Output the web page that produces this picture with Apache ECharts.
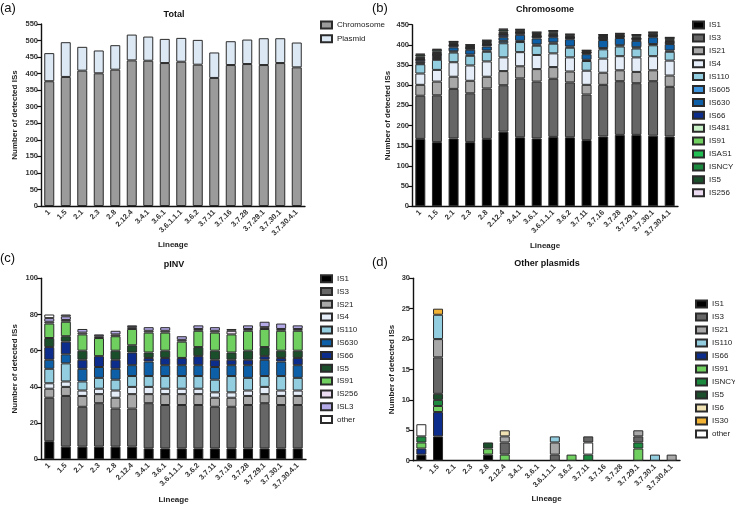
<!DOCTYPE html>
<html>
<head>
<meta charset="utf-8">
<script src="https://cdn.jsdelivr.net/npm/echarts@6/dist/echarts.min.js"></script>
<style>
html, body { margin: 0; padding: 0; background: #fff; }
#main { width: 735px; height: 506px; }
</style>
</head>
<body>
<div id="main"></div>
<script>
var lineage = ['1', '1.5', '2.1', '2.3', '2.8', '2.12.4', '3.4.1', '3.6.1', '3.6.1.1.1', '3.6.2',
  '3.7.11', '3.7.16', '3.7.28', '3.7.29.1', '3.7.30.1', '3.7.30.4.1'];

// (a) Total
var totChromosome = [377, 390, 409, 401, 412, 440, 439, 432, 436, 427, 387, 426, 429, 426, 432, 419];
var totPlasmid = [85, 105, 72, 69, 74, 78, 73, 73, 72, 75, 77, 72, 74, 81, 75, 75];

// (b) Chromosome
var chrNames = ['IS1', 'IS3', 'IS21', 'IS4', 'IS110', 'IS605', 'IS630', 'IS66', 'IS481', 'IS91', 'ISAS1', 'ISNCY', 'IS5', 'IS256'];
var chrIS1 = [167, 159, 168, 159, 167, 185, 171, 168, 172, 171, 164, 173, 177, 177, 175, 173];
var chrIS3 = [107, 116, 123, 121, 125, 115, 146, 141, 144, 136, 113, 128, 133, 128, 135, 123];
var chrIS21 = [27, 34, 30, 31, 29, 35, 30, 31, 29, 27, 24, 30, 27, 28, 27, 28];
var chrIS4 = [28, 29, 36, 38, 38, 34, 35, 35, 34, 35, 35, 35, 35, 36, 35, 37];
var chrIS110 = [23, 25, 24, 24, 24, 35, 25, 23, 24, 24, 24, 23, 24, 22, 27, 22];
var chrIS605 = [2, 2, 3, 3, 3, 6, 3, 3, 3, 3, 3, 3, 3, 3, 3, 3];
var chrIS630 = [4, 5, 10, 12, 10, 9, 15, 15, 13, 18, 14, 20, 18, 16, 17, 16];
var chrIS66 = [5, 5, 4, 3, 4, 6, 4, 4, 4, 3, 3, 4, 3, 4, 3, 4];
var chrIS481 = [1, 1, 1, 1, 1, 1, 1, 1, 1, 1, 0, 1, 1, 1, 1, 1];
var chrIS91 = [2, 2, 1, 1, 1, 2, 1, 1, 2, 1, 1, 1, 1, 1, 1, 2];
var chrISAS1 = [2, 2, 2, 2, 2, 2, 2, 2, 2, 2, 1, 2, 2, 2, 2, 2];
var chrISNCY = [3, 3, 2, 2, 3, 3, 2, 3, 3, 2, 2, 2, 2, 3, 2, 3];
var chrIS5 = [5, 5, 4, 3, 4, 5, 3, 4, 4, 3, 2, 3, 2, 4, 3, 4];
var chrIS256 = [2, 2, 1, 1, 1, 2, 1, 1, 1, 1, 1, 1, 1, 1, 1, 1];
var chrValues = [chrIS1, chrIS3, chrIS21, chrIS4, chrIS110, chrIS605, chrIS630, chrIS66, chrIS481, chrIS91, chrISAS1, chrISNCY, chrIS5, chrIS256];

// (c) pINV
var invNames = ['IS1', 'IS3', 'IS21', 'IS4', 'IS110', 'IS630', 'IS66', 'IS5', 'IS91', 'IS256', 'ISL3', 'other'];
var invIS1 = [10, 7, 7, 7, 7, 7, 6, 6, 6, 6, 6, 6, 6, 6, 6, 6];
var invIS3 = [24, 28, 22, 24, 21, 21, 25, 24, 24, 24, 23, 23, 24, 25, 24, 24];
var invIS21 = [5, 5, 6, 5, 6, 8, 5, 6, 6, 6, 5, 5, 5, 5, 5, 5];
var invIS4 = [3, 3, 3, 3, 4, 4, 4, 3, 3, 3, 3, 3, 3, 4, 3, 3];
var invIS110 = [8, 10, 5, 6, 6, 6, 6, 7, 7, 7, 7, 9, 7, 6, 8, 7];
var invIS630 = [5, 5, 7, 6, 6, 6, 8, 6, 6, 6, 7, 6, 7, 9, 8, 7];
var invIS66 = [7, 7, 5, 6, 5, 7, 2, 4, 4, 5, 4, 3, 3, 2, 2, 4];
var invIS5 = [5, 3, 5, 0, 5, 4, 3, 4, 0, 5, 5, 4, 5, 5, 4, 4];
var invIS91 = [8, 8, 9, 10, 8, 9, 11, 10, 9, 9, 10, 10, 11, 10, 11, 11];
var invIS256 = [1, 1, 1, 1, 1, 1, 1, 1, 1, 1, 1, 2, 1, 1, 1, 1];
var invISL3 = [2, 2, 2, 1, 2, 1, 2, 2, 2, 2, 2, 1, 2, 3, 3, 2];
var invOther = [2, 1, 0, 0, 0, 0, 0, 0, 0, 0, 0, 0, 0, 0, 0, 0];
var invValues = [invIS1, invIS3, invIS21, invIS4, invIS110, invIS630, invIS66, invIS5, invIS91, invIS256, invISL3, invOther];

// (d) Other plasmids  (stacking order differs from legend order)
var othLegend = ['IS1', 'IS3', 'IS21', 'IS110', 'IS66', 'IS91', 'ISNCY', 'IS5', 'IS6', 'IS30', 'other'];
var othNames = ['IS1', 'IS66', 'IS91', 'ISNCY', 'IS5', 'other', 'IS3', 'IS21', 'IS110', 'IS6', 'IS30'];
var othIS1 = [1, 4, 0, 0, 1, 0, 0, 0, 0, 0, 0, 0, 0, 0, 0, 0];
var othIS66 = [1, 4, 0, 0, 0, 0, 0, 0, 0, 0, 0, 0, 0, 0, 0, 0];
var othIS91 = [1, 1, 0, 0, 1, 1, 0, 0, 0, 1, 0, 0, 0, 2, 0, 0];
var othISNCY = [1, 1, 0, 0, 0, 0, 0, 0, 0, 0, 1, 0, 0, 1, 0, 0];
var othIS5 = [0, 1, 0, 0, 1, 0, 0, 0, 0, 0, 0, 0, 0, 0, 0, 0];
var othOther = [2, 0, 0, 0, 0, 0, 0, 0, 0, 0, 2, 0, 0, 0, 0, 0];
var othIS3 = [0, 6, 0, 0, 0, 2, 0, 0, 1, 0, 1, 0, 0, 1, 0, 0];
var othIS21 = [0, 3, 0, 0, 0, 1, 0, 0, 2, 0, 0, 0, 0, 1, 0, 1];
var othIS110 = [0, 4, 0, 0, 0, 0, 0, 0, 1, 0, 0, 0, 0, 0, 1, 0];
var othIS6 = [0, 0, 0, 0, 0, 1, 0, 0, 0, 0, 0, 0, 0, 0, 0, 0];
var othIS30 = [0, 1, 0, 0, 0, 0, 0, 0, 0, 0, 0, 0, 0, 0, 0, 0];
var othValues = [othIS1, othIS66, othIS91, othISNCY, othIS5, othOther, othIS3, othIS21, othIS110, othIS6, othIS30];

var colours = {
  Chromosome: '#9b9b9b', Plasmid: '#dde8f5',
  IS1: '#000000', IS3: '#666666', IS21: '#a8a8a8', IS4: '#e4edf8', IS110: '#92cde0',
  IS605: '#3d93dc', IS630: '#0d60a8', IS66: '#0c2d8c', IS481: '#c9f2c9', IS91: '#6fd060',
  ISAS1: '#22bf55', ISNCY: '#1c8a3e', IS5: '#1b4f2c', IS256: '#ecdcf2', ISL3: '#b4aae8',
  other: '#ffffff', IS6: '#f1e2b4', IS30: '#f2b233'
};

var font = 'Liberation Sans, Arial, sans-serif';
var grids = [
  { left: 41, top: 24, width: 264, height: 182 },
  { left: 412, top: 24.7, width: 266, height: 181.6 },
  { left: 41, top: 278.3, width: 265, height: 181 },
  { left: 413, top: 278.3, width: 267, height: 182.4 }
];
var yMax = [550, 450, 100, 30];
var yStep = [50, 50, 20, 5];
var yNameGap = [22, 20, 22, 17];
var xNameGap = [35, 35, 36, 33];

function xAxis(i) {
  return {
    type: 'category', gridIndex: i, data: lineage,
    name: 'Lineage', nameLocation: 'middle', nameGap: xNameGap[i],
    nameTextStyle: { fontFamily: font, fontSize: 8, fontWeight: 'bold', color: '#222' },
    axisLine: { lineStyle: { color: '#111', width: 1.4 } },
    axisTick: { show: false },
    axisLabel: { interval: 0, rotate: 45, margin: 5, fontFamily: font, fontSize: 7.5, fontWeight: 'bold', color: '#333' }
  };
}
function yAxis(i) {
  return {
    type: 'value', gridIndex: i, min: 0, max: yMax[i], interval: yStep[i],
    name: 'Number of detected ISs', nameLocation: 'middle', nameGap: yNameGap[i],
    nameTextStyle: { fontFamily: font, fontSize: 8, fontWeight: 'bold', color: '#222' },
    axisLine: { show: true, lineStyle: { color: '#111', width: 1.4 } },
    axisTick: { show: true, length: 4, lineStyle: { color: '#111', width: 1.2 } },
    axisLabel: { margin: 3, fontFamily: font, fontSize: 7.5, fontWeight: 'bold', color: '#333' },
    splitLine: { show: false }
  };
}
function stack(names, values, i) {
  return names.map(function (n, k) {
    return {
      name: n, type: 'bar', stack: 'p' + i, xAxisIndex: i, yAxisIndex: i,
      barWidth: 10,
      // empty segments are left out so they draw no border line
      data: values[k].map(function (v) { return v === 0 ? '-' : v; }),
      itemStyle: { color: colours[n], borderColor: '#2b2b2b', borderWidth: 1 }
    };
  });
}
function legend(names, left, top, gap) {
  return {
    orient: 'vertical', left: left, top: top, padding: 0, itemGap: gap, data: names,
    icon: 'rect', itemWidth: 11, itemHeight: 7, selectedMode: false,
    textStyle: { fontFamily: font, fontSize: 8, lineHeight: 10, color: '#222' }
  };
}
function label(text, x, y, size, bold) {
  return {
    type: 'text', x: x, y: y,
    style: { text: text, fontFamily: font, fontSize: size, fontWeight: bold ? 'bold' : 'normal',
      fill: '#111', textAlign: bold ? 'center' : 'left', textVerticalAlign: 'middle' }
  };
}

var series = []
  .concat(stack(['Chromosome', 'Plasmid'], [totChromosome, totPlasmid], 0))
  .concat(stack(chrNames, chrValues, 1))
  .concat(stack(invNames, invValues, 2))
  .concat(stack(othNames, othValues, 3));

var myChart = echarts.init(document.getElementById('main'));
myChart.setOption({
  animation: false,
  grid: grids,
  xAxis: [xAxis(0), xAxis(1), xAxis(2), xAxis(3)],
  yAxis: [yAxis(0), yAxis(1), yAxis(2), yAxis(3)],
  legend: [
    legend(['Chromosome', 'Plasmid'], 320, 20, 3.8),
    legend(chrNames, 692, 20, 2.9),
    legend(invNames, 320, 273.7, 2.8),
    legend(othLegend, 695, 299, 3)
  ],
  graphic: [
    label('(a)', 0, 8, 13, false),
    label('(b)', 372, 8, 13, false),
    label('(c)', 0, 258, 13, false),
    label('(d)', 372, 262, 13, false),
    label('Total', 174, 15, 9, true),
    label('Chromosome', 545, 10, 9, true),
    label('pINV', 174, 265, 9, true),
    label('Other plasmids', 547, 264, 9, true)
  ],
  series: series
});
</script>
</body>
</html>
